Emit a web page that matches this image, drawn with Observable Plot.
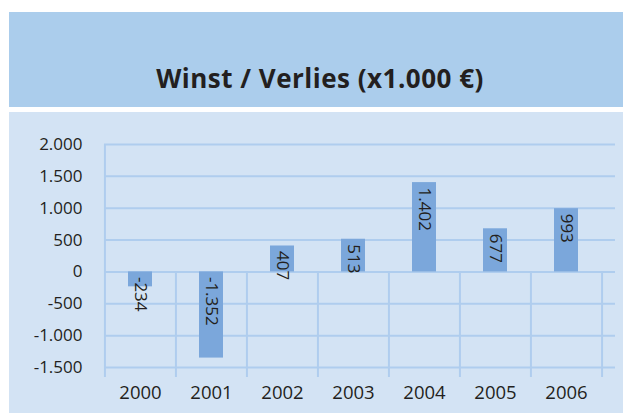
<!DOCTYPE html>
<html>
<head>
<meta charset="utf-8">
<script src="https://cdn.jsdelivr.net/npm/d3@7"></script>
<script src="https://cdn.jsdelivr.net/npm/@observablehq/plot@0.6"></script>
<style>
  html, body { margin: 0; padding: 0; background: #ffffff; }
  body { width: 623px; height: 413px; position: relative; overflow: hidden; font-family: "Open Sans", sans-serif; }
  #band { position: absolute; left: 9px; top: 12px; width: 614px; height: 95px; background: #abcdec; }
  #title { position: absolute; left: 0; width: 100%; top: 53px; text-align: center; font-size: 26px; letter-spacing: 0.5px; font-weight: bold; color: #231f20; line-height: 1; padding-left: 8px; box-sizing: border-box; }
  #chart { position: absolute; left: 9px; top: 112px; width: 614px; height: 301px; background: #d3e3f4; }
  #chart svg { display: block; }
  #chart [aria-label^="x-axis"] text { font-size: 18.5px; }
</style>
</head>
<body>
<div id="band"><div id="title">Winst / Verlies (x1.000 €)</div></div>
<div id="chart"></div>
<script>
const years = ["2000", "2001", "2002", "2003", "2004", "2005", "2006"];
const values = [-234, -1352, 407, 513, 1402, 677, 993];
const yTicks = [-1500, -1000, -500, 0, 500, 1000, 1500, 2000];

const nl = d3.formatLocale({decimal: ",", thousands: ".", grouping: [3], currency: ["€", ""], minus: "-"});
const fmt = nl.format(",");

const data = years.map((year, i) => ({year, value: values[i]}));

const W = 614, H = 301;
const mL = 95, mR = 21, mT = 32, mB = 46;
const step = (W - mL - mR) / years.length;
const pad = 1 - 24 / step;

const grid = "#afcdee";
const ink = "#231f20";

const chart = Plot.plot({
  width: W,
  height: H,
  marginLeft: mL,
  marginRight: mR,
  marginTop: mT,
  marginBottom: mB,
  style: {background: "transparent", fontFamily: "Open Sans, sans-serif", fontSize: "17px", color: ink},
  x: {domain: years, paddingInner: pad, paddingOuter: pad / 2, tickSize: 0, tickPadding: 18, label: null},
  y: {domain: [-1500, 2000], ticks: yTicks, tickFormat: fmt, tickSize: 0, tickPadding: 22, label: null},
  marks: [
    Plot.ruleY(yTicks, {y: d => d, stroke: grid, strokeWidth: 2, insetRight: -13}),
    Plot.ruleX([years[0]], {x: d => d, dx: -step / 2, y1: 2000, y2: -1500, insetBottom: -10, stroke: grid, strokeWidth: 2}),
    Plot.ruleX(years.slice(1), {x: d => d, dx: -step / 2, y1: 0, y2: -1500, insetBottom: -10, stroke: grid, strokeWidth: 2}),
    Plot.ruleX([years[years.length - 1]], {x: d => d, dx: step / 2, y1: 0, y2: -1500, insetBottom: -10, stroke: grid, strokeWidth: 2}),
    Plot.barY(data, {x: "year", y: "value", fill: "#7ba7db"}),
    Plot.text(data, {
      x: "year",
      y: d => Math.max(d.value, 0),
      text: d => fmt(d.value),
      rotate: 90,
      textAnchor: "start",
      lineAnchor: "middle",
      dy: 5,
      fill: ink,
      fontSize: 17
    })
  ]
});
document.getElementById("chart").appendChild(chart);
</script>
</body>
</html>
